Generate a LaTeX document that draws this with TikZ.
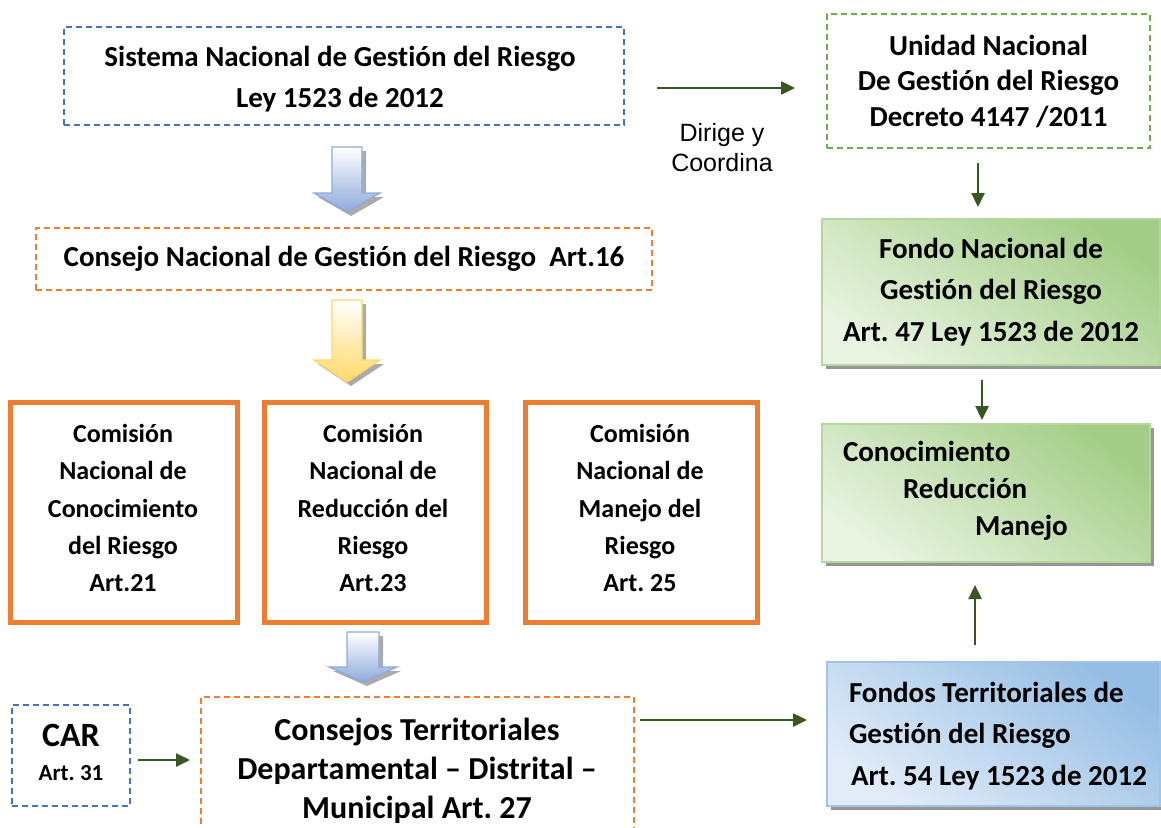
\documentclass[tikz,border=0pt]{standalone}
\usepackage{fontspec}
\setmainfont{Carlito}[Ligatures=NoCommon]
\newfontfamily\arialfont{Liberation Sans}
\usetikzlibrary{arrows.meta,shadows,calc}
\definecolor{dblue}{RGB}{68,114,196}
\definecolor{dorange}{RGB}{237,125,49}
\definecolor{dgreen}{RGB}{112,173,71}
\definecolor{agreen}{RGB}{56,87,35}
\definecolor{gdark}{RGB}{164,206,136}
\definecolor{glight}{RGB}{232,243,225}
\definecolor{gbord}{RGB}{180,215,155}
\definecolor{bdark}{RGB}{150,190,228}
\definecolor{blight}{RGB}{225,236,248}
\definecolor{bbord}{RGB}{160,196,230}
\definecolor{arblue}{RGB}{142,170,219}
\definecolor{aryellow}{RGB}{255,217,102}
\definecolor{shgray}{RGB}{150,150,150}
\newcommand{\blkarrow}[7]{%
  \fill[shgray!80] (#1-#5+4,#2+4) -- (#1+#5+4,#2+4) -- (#1+#5+4,#3+4) -- (#1+#6+4,#3+4) -- (#1+4,#4+4) -- (#1-#6+4,#3+4) -- (#1-#5+4,#3+4) -- cycle;
  \shade[top color=white, bottom color=#7, draw=#7, line width=1.2pt] (#1-#5,#2) -- (#1+#5,#2) -- (#1+#5,#3) -- (#1+#6,#3) -- (#1,#4) -- (#1-#6,#3) -- (#1-#5,#3) -- cycle;
}
\tikzset{
  x=1pt, y=-1pt,
  every node/.style={inner sep=0pt, outer sep=0pt},
  dbox/.style={draw, line width=1.5pt, dash pattern=on 6pt off 4pt, minimum width=#1},
  combox/.style={draw=dorange, line width=5pt, minimum width=#1, minimum height=220pt},
  comtxt/.style={align=center, font=\fontsize{26}{37.3}\selectfont\bfseries},
  bigtxt/.style={align=center, font=\fontsize{29}{41.5}\selectfont\bfseries},
  gbox/.style={shade, top color=gdark, bottom color=glight, shading angle=-35, draw=gbord, line width=1.5pt,
     drop shadow={shadow xshift=4pt, shadow yshift=-4pt, fill=shgray, opacity=1}},
  bbox/.style={shade, top color=bdark, bottom color=blight, shading angle=-35, draw=bbord, line width=1.5pt,
     drop shadow={shadow xshift=4pt, shadow yshift=-4pt, fill=shgray, opacity=1}},
  garrow/.style={draw=agreen, line width=2.5pt, -{Triangle[length=14pt,width=13pt]}},
}
\begin{document}
\frenchspacing
\begin{tikzpicture}
\useasboundingbox (0,0) rectangle (1161,827);
% top left box
\node[dbox=560pt, draw=dblue, minimum height=98pt] (sis) at (344,76) {};
\node[bigtxt] (sist) at (340,79) {Sistema Nacional de Gestión del Riesgo\\Ley 1523 de 2012};
% unidad
\node[dbox=323pt, draw=dgreen, minimum height=134pt, align=center, font=\fontsize{29}{35.5}\selectfont\bfseries] (uni) at (988.5,81) {Unidad Nacional\\De Gestión del Riesgo\\Decreto 4147 /2011};
\node[align=center, font=\arialfont\fontsize{25}{30}\selectfont] (dir) at (722,148) {Dirige y\\Coordina};
% consejo nacional
\node[dbox=616pt, draw=dorange, minimum height=62pt, bigtxt] (cons) at (344,259) {Consejo Nacional de Gestión del Riesgo\ \ Art.16};
% block arrows
\blkarrow{347}{147}{193}{212}{15}{33}{arblue}
\blkarrow{347}{300}{360}{382}{15}{33}{aryellow}
\blkarrow{363}{632}{667}{682}{16}{34}{arblue}
% commissions
\node[combox=227pt] (c1) at (123.5,512) {};
\node[combox=222pt] (c2) at (375,512) {};
\node[combox=232pt] (c3) at (641,512) {};
\node[comtxt] (c1t) at (123,508) {Comisión\\Nacional de\\Conocimiento\\del Riesgo\\Art.21};
\node[comtxt] (c2t) at (373,508) {Comisión\\Nacional de\\Reducción del\\Riesgo\\Art.23};
\node[comtxt] (c3t) at (640,508) {Comisión\\Nacional de\\Manejo del\\Riesgo\\Art. 25};
% fondo nacional
\node[gbox, minimum width=338pt, minimum height=146pt, bigtxt] (fon) at (991,292) {Fondo Nacional de\\Gestión del Riesgo\\Art. 47 Ley 1523 de 2012};
% conocimiento
\node[gbox, minimum width=328pt, minimum height=138pt] (cono) at (986,493) {};
\node[anchor=west, align=left, font=\fontsize{29}{37}\selectfont\bfseries] (conot) at (843,491) {Conocimiento\\\hspace*{60pt}Reducción\\\hspace*{132pt}Manejo};
% fondos territoriales
\node[bbox, minimum width=333pt, minimum height=144pt] (ft) at (993.5,734) {};
\node[anchor=west, align=left, font=\fontsize{29}{41.5}\selectfont\bfseries] (ftt) at (849,736) {Fondos Territoriales de\\Gestión del Riesgo\\\hspace*{2pt}Art. 54 Ley 1523 de 2012};
% CAR
\node[dbox=118pt, draw=dblue, minimum height=101pt] (car) at (71,755.5) {};
\node[align=center, font=\fontsize{23}{34}\selectfont\bfseries] (cart) at (71,752) {{\fontsize{34}{34}\selectfont CAR}\\Art. 31};
% consejos territoriales
\node[dbox=433pt, draw=dorange, minimum height=153pt] (ct) at (417.5,773.5) {};
\node[align=center, font=\fontsize{32}{39}\selectfont\bfseries] (ctt) at (417,771) {Consejos Territoriales\\Departamental – Distrital –\\Municipal Art. 27};
% connectors
\draw[garrow, shorten <=33pt, shorten >=32pt] (sis.east |- 0,88) -- (uni.west |- 0,88);
\draw[garrow, shorten <=15pt, shorten >=12pt] (uni.south -| 978,0) -- (fon.north -| 978,0);
\draw[garrow, shorten <=15pt, shorten >=4pt] (fon.south -| 982,0) -- (cono.north -| 982,0);
\draw[garrow, shorten <=17pt, shorten >=23pt] (ft.north -| 975,0) -- (cono.south -| 975,0);
\draw[garrow, shorten <=8pt, shorten >=11pt] (car.east |- 0,760) -- (ct.west |- 0,760);
\draw[garrow, shorten <=6pt, shorten >=20pt] (ct.east |- 0,720) -- (ft.west |- 0,720);
\end{tikzpicture}
\end{document}
